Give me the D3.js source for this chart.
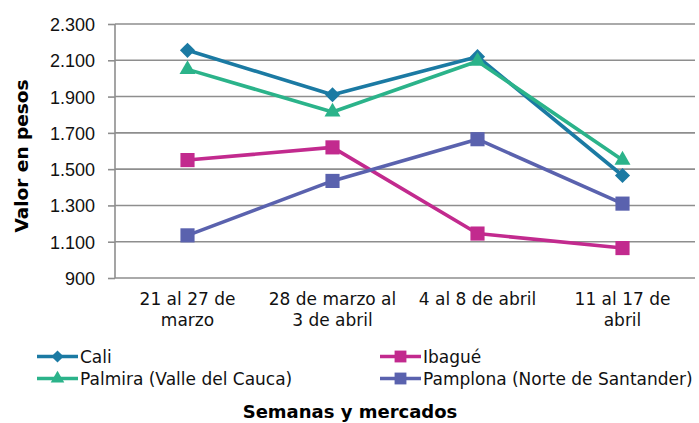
<!DOCTYPE html>
<html>
<head>
<meta charset="utf-8">
<script src="https://cdn.jsdelivr.net/npm/d3@7"></script>
<style>
    body { margin: 0; background: #fff; }
    svg { font-family: 'DejaVu Sans', sans-serif; }
</style>
</head>
<body>
<svg id="drawing_region"></svg>
<script>
// weeks on the x axis (label lines split on '|')
const weeks = ['21 al 27 de|marzo', '28 de marzo al|3 de abril', '4 al 8 de abril', '11 al 17 de|abril'];
const y_ticks = [900, 1100, 1300, 1500, 1700, 1900, 2100, 2300];

const markets = ['Cali', 'Ibagué', 'Palmira (Valle del Cauca)', 'Pamplona (Norte de Santander)'];
const cali     = [2155, 1910, 2120, 1465];
const ibague   = [1550, 1620, 1145, 1065];
const palmira  = [2050, 1815, 2095, 1550];
const pamplona = [1135, 1435, 1665, 1310];

const colors  = ['#1b7aa3', '#c22a8e', '#2bb38a', '#5a62ae'];
const shapes  = ['diamond', 'square', 'triangle', 'square'];

// marker path for a shape; diamond is a square turned 45 degrees
function marker(shape, big) {
    if (shape === 'triangle') return d3.symbol().type(d3.symbolTriangle).size(big ? 110 : 80)();
    return d3.symbol().type(d3.symbolSquare).size(shape === 'diamond' ? (big ? 115 : 75) : (big ? 200 : 140))();
}

class LineChart {
    constructor (config, data) {
        this.config = {
            parent: config.parent,
            width: config.width || 256,
            height: config.height || 256,
            margin: config.margin || {top:10, right:10, bottom:10, left:10},
            xlabel: config.xlabel || '',
            ylabel: config.ylabel || ''
        };
        this.data = data;
        this.init();
    }

    init() {
        let self = this;

        self.svg = d3.select(self.config.parent)
            .attr('width', self.config.width)
            .attr('height', self.config.height);

        self.chart = self.svg.append('g')
            .attr('transform', `translate(${self.config.margin.left}, ${self.config.margin.top})`);

        self.inner_width = self.config.width - self.config.margin.left - self.config.margin.right;
        self.inner_height = self.config.height - self.config.margin.top - self.config.margin.bottom;

        self.xscale = d3.scaleBand()
            .domain(weeks)
            .range([0, self.inner_width]);

        self.yscale = d3.scaleLinear()
            .domain([900, 2300])
            .range([self.inner_height, 0]);

        self.yaxis = d3.axisLeft(self.yscale)
            .tickValues(y_ticks)
            .tickFormat(d => d3.format(',')(d).replace(',', '.'))
            .tickSize(7)
            .tickPadding(13);

        self.yaxis_group = self.chart.append('g');
        self.grid_group = self.chart.append('g');
        self.xaxis_group = self.chart.append('g')
            .attr('transform', `translate(0, ${self.inner_height})`);

        self.svg.append('text')
            .style('font-size', '18px')
            .style('font-weight', 'bold')
            .attr('x', 350)
            .attr('y', 418)
            .attr('text-anchor', 'middle')
            .text( self.config.xlabel );

        self.svg.append('text')
            .style('font-size', '18.5px')
            .style('font-weight', 'bold')
            .attr('transform', `rotate(-90)`)
            .attr('x', -156)
            .attr('y', 28)
            .attr('text-anchor', 'middle')
            .text( self.config.ylabel );
    }

    update() {
        let self = this;
        self.xvalue = (d, i) => self.xscale(weeks[i]) + self.xscale.bandwidth() / 2;
        self.render();
    }

    render() {
        let self = this;

        // horizontal gridlines
        self.grid_group.selectAll('line')
            .data(y_ticks)
            .join('line')
            .attr('x1', 0)
            .attr('x2', self.inner_width)
            .attr('y1', d => self.yscale(d))
            .attr('y2', d => self.yscale(d))
            .attr('stroke', '#8e8e8e')
            .attr('stroke-width', 1.6);

        self.yaxis_group.call(self.yaxis);
        self.yaxis_group.select('.domain')
            .attr('stroke', '#8e8e8e')
            .attr('stroke-width', 1.6)
            .attr('d', `M0,0V${self.inner_height}`);
        self.yaxis_group.selectAll('.tick line')
            .attr('stroke', '#8e8e8e')
            .attr('stroke-width', 1.6);
        self.yaxis_group.selectAll('.tick text')
            .style('font-size', '18px')
            .attr('fill', '#111')
            .attr('dy', '0.36em');

        // x labels, two lines
        const xl = self.xaxis_group.selectAll('text')
            .data(weeks)
            .join('text')
            .attr('x', d => self.xscale(d) + self.xscale.bandwidth() / 2)
            .attr('y', 27)
            .attr('text-anchor', 'middle')
            .style('font-size', '17px')
            .attr('fill', '#111');
        xl.selectAll('tspan')
            .data(d => d.split('|'))
            .join('tspan')
            .attr('x', function() { return this.parentNode.getAttribute('x'); })
            .attr('dy', (d, i) => i ? 20.5 : 0)
            .text(d => d);

        const line = d3.line()
            .x(self.xvalue)
            .y(d => self.yscale(d));

        const series = self.chart.selectAll('.series')
            .data(self.data)
            .join('g')
            .attr('class', 'series');

        series.append('path')
            .attr('d', d => line(d.values))
            .attr('fill', 'none')
            .attr('stroke', d => d.color)
            .attr('stroke-width', 3.6)
            .attr('stroke-linejoin', 'round');

        series.each(function(s) {
            d3.select(this).selectAll('.mark')
                .data(s.values)
                .join('path')
                .attr('class', 'mark')
                .attr('transform', (d, i) => `translate(${self.xvalue(d, i)}, ${self.yscale(d)})` + (s.shape === 'diamond' ? ' rotate(45)' : ''))
                .attr('d', marker(s.shape, true))
                .attr('fill', s.color);
        });

        // legend, two columns
        const legend = self.svg.selectAll('.legend')
            .data(self.data)
            .join('g')
            .attr('class', 'legend')
            .attr('transform', (d, i) => `translate(${i % 2 ? 380 : 37}, ${i < 2 ? 356.5 : 378.5})`);
        legend.append('line')
            .attr('x1', 0).attr('x2', 41)
            .attr('stroke', d => d.color)
            .attr('stroke-width', 3.6);
        legend.append('path')
            .attr('transform', d => 'translate(20.5, 0)' + (d.shape === 'diamond' ? ' rotate(45)' : ''))
            .attr('d', d => marker(d.shape, false))
            .attr('fill', d => d.color);
        legend.append('text')
            .attr('x', 43)
            .attr('dy', '0.36em')
            .style('font-size', '17px')
            .attr('fill', '#111')
            .text(d => d.name);
    }
}

const data = [cali, ibague, palmira, pamplona].map((values, i) => ({
    name: markets[i], values: values, color: colors[i], shape: shapes[i]
}));

const chart = new LineChart({
    parent: '#drawing_region',
    width: 699,
    height: 423,
    margin: {top: 24, right: 4, bottom: 145, left: 115},
    xlabel: 'Semanas y mercados',
    ylabel: 'Valor en pesos'
}, data);
chart.update();
</script>
</body>
</html>
